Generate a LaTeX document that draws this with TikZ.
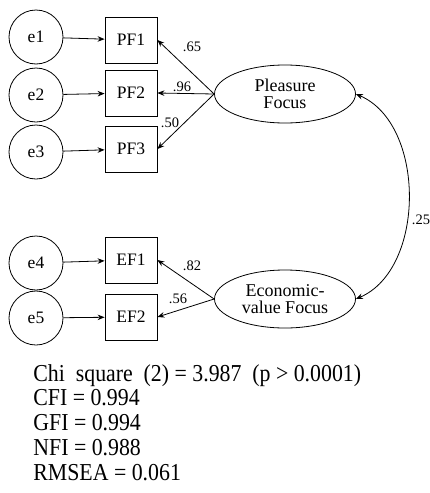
\documentclass[tikz,border=0pt]{standalone}
\usepackage{fontspec}
\setmainfont{Liberation Serif}
\usetikzlibrary{shapes.geometric,arrows.meta}
\newcommand{\tallfit}[1]{\scalebox{0.97}[1.08]{#1}}
\begin{document}
\begin{tikzpicture}[x=1pt,y=-1pt,
  err/.style={draw,circle,minimum size=54pt,inner sep=0pt,font=\fontsize{17.5}{19}\selectfont},
  obs/.style={draw,rectangle,minimum width=52pt,minimum height=46pt,inner sep=0pt,font=\fontsize{17.5}{19}\selectfont},
  lat/.style={draw,ellipse,minimum width=141pt,minimum height=58pt,inner sep=0pt,align=center,font=\fontsize{18}{17}\selectfont},
  arr/.style={-{Stealth[length=7pt,width=5.5pt]},line width=0.8pt},
  coef/.style={font=\fontsize{14.5}{16}\selectfont,inner sep=1pt},
  fit/.style={anchor=base west,inner sep=0pt,font=\fontsize{22.5}{24}\selectfont},
  every path/.style={line width=0.8pt}]
\useasboundingbox (0,0) rectangle (430,493);
\node[err] (e1) at (36,37) {e1};
\node[err] (e2) at (36,95) {e2};
\node[err] (e3) at (36,152) {e3};
\node[err] (e4) at (36,263) {e4};
\node[err] (e5) at (36,318) {e5};
\node[obs] (pf1) at (131,40) {PF1};
\node[obs] (pf2) at (131,93) {PF2};
\node[obs] (pf3) at (131,149) {PF3};
\node[obs] (ef1) at (131,260) {EF1};
\node[obs] (ef2) at (131,317) {EF2};
\node[lat] (pf) at (285,94) {Pleasure\\Focus};
\node[lat] (ef) at (285,299) {Economic-\\value Focus};
\foreach \a/\b in {e1/pf1,e2/pf2,e3/pf3,e4/ef1,e5/ef2}{\draw[arr] (\a) -- (\b);}
\draw[arr] (pf.west) -- (pf1.east);
\draw[arr] (pf.west) -- (pf2.east);
\draw[arr] (pf.west) -- (pf3.east);
\draw[arr] (ef.west) -- (ef1.east);
\draw[arr] (ef.west) -- (ef2.east);
\draw[{Stealth[length=7pt,width=5.5pt]}-{Stealth[length=7pt,width=5.5pt]},line width=0.8pt] (pf.east) .. controls +(70,30) and +(70,-30) .. (ef.east);
\node[coef] (c1) at (192,47) {.65};
\node[coef] (c2) at (182,87) {.96};
\node[coef] (c3) at (170,123) {.50};
\node[coef] (c4) at (192,266) {.82};
\node[coef] (c5) at (178,299) {.56};
\node[coef] (c6) at (421,220) {.25};
\node[fit] (s1) at (33,381) {\tallfit{Chi\ \ square\ \ (2) = 3.987\ \ (p > 0.0001)}};
\node[fit] (s2) at (33,405.5) {\tallfit{CFI = 0.994}};
\node[fit] (s3) at (33,430.5) {\tallfit{GFI = 0.994}};
\node[fit] (s4) at (33,455.5) {\tallfit{NFI = 0.988}};
\node[fit] (s5) at (33,480) {\tallfit{RMSEA = 0.061}};
\end{tikzpicture}
\end{document}
